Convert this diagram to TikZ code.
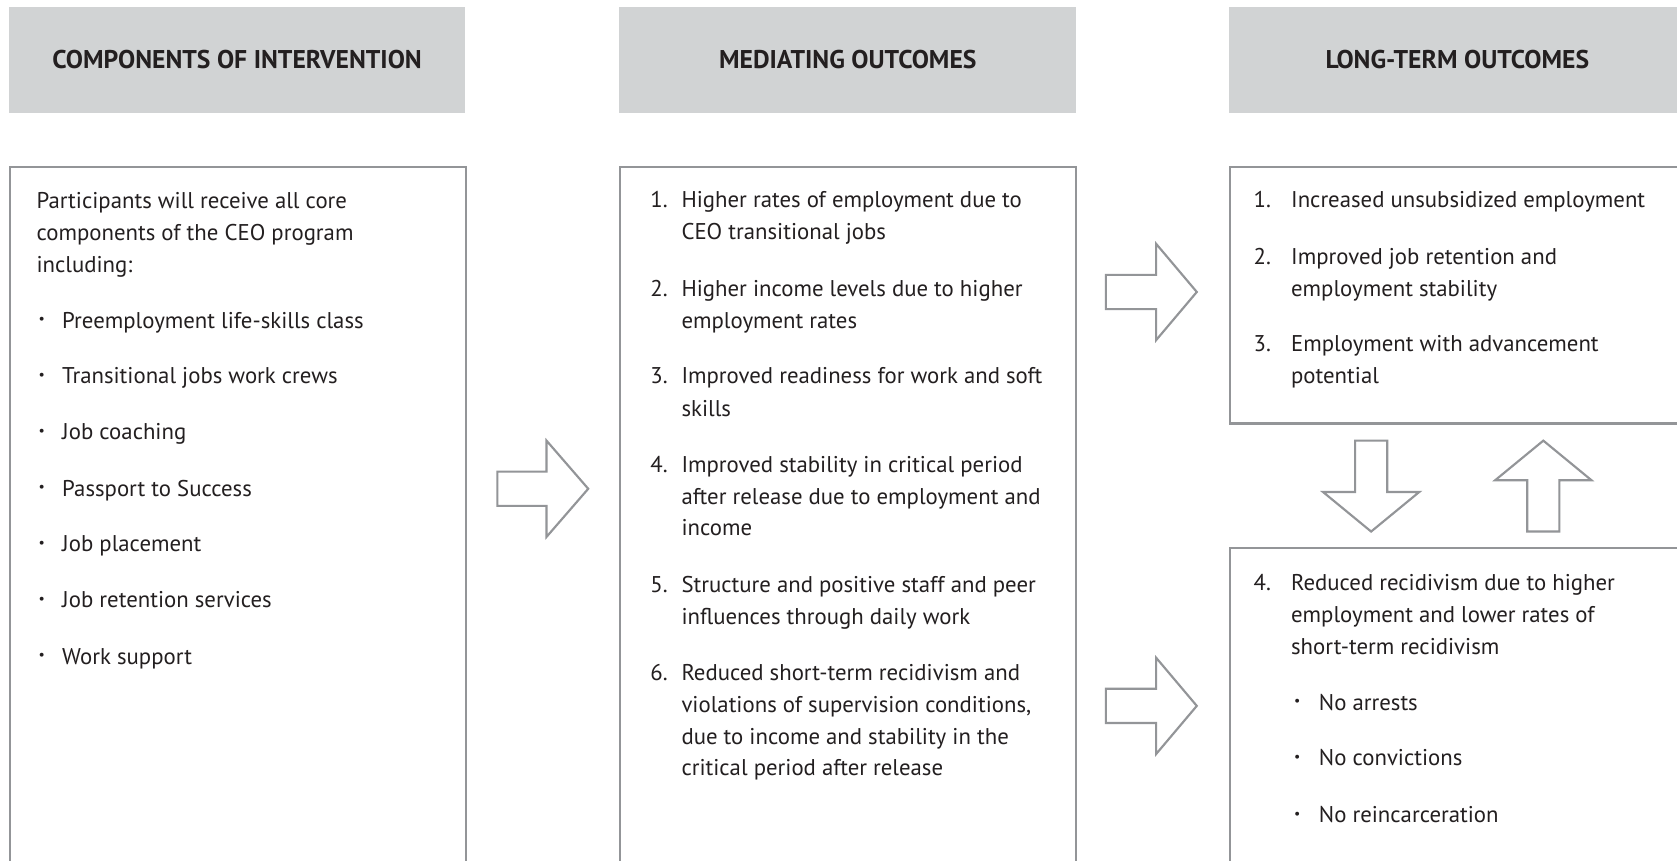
\documentclass[tikz,border=0pt]{standalone}
\usepackage{fontspec}
\setmainfont{PT Sans}
\definecolor{hdr}{HTML}{D1D3D4}
\definecolor{framec}{HTML}{939598}
\definecolor{ink}{HTML}{231F20}
\newcommand\mytl[4]{\node[txt] (#1) at (#2,#3) {#4};}
\newcommand\mybul[3]{\node[bul] (#1) at (#2,#3) {\textbullet};}
\begin{document}
\begin{tikzpicture}[x=1pt,y=-1pt,
  hdrbox/.style={fill=hdr,draw=none,anchor=north west,minimum width=427pt,minimum height=99pt,inner sep=0pt,text=ink,font=\bfseries\fontsize{24}{26}\selectfont},
  bodybox/.style={draw=framec,line width=2pt,anchor=north west,inner sep=0pt},
  blockarrow/.style={draw=framec,line width=2pt,fill=white,line join=miter},
  txt/.style={anchor=base west,inner sep=0pt,text=ink,font=\fontsize{21.3}{24}\selectfont},
  bul/.style={anchor=center,inner sep=0pt,text=ink,font=\fontsize{13}{14}\selectfont}]
\useasboundingbox (0,0) rectangle (1568,805);
\clip (0,0) rectangle (1568,805);
\fill[white] (0,0) rectangle (1568,805);
% headers
\node[hdrbox] (h1) at (8,6) {COMPONENTS OF INTERVENTION};
\node[hdrbox] (h2) at (579,6) {MEDIATING OUTCOMES};
\node[hdrbox] (h3) at (1149,6) {LONG-TERM OUTCOMES};
% body boxes
\node[bodybox,minimum width=427pt,minimum height=700pt] (b1) at (8,155) {};
\node[bodybox,minimum width=426pt,minimum height=700pt] (b2) at (579,155) {};
\node[bodybox,minimum width=427pt,minimum height=240pt] (b3) at (1149,155) {};
\node[bodybox,minimum width=427pt,minimum height=350pt] (b4) at (1149,511) {};
% box 1 text
\mytl{a1}{34}{195}{Participants will receive all core}
\mytl{a2}{34}{225}{components of the CEO program}
\mytl{a3}{34}{255}{including:}
\mybul{ab1}{39}{300}\mytl{at1}{58}{307}{Preemployment life-skills class}
\mybul{ab2}{39}{352}\mytl{at2}{58}{359}{Transitional jobs work crews}
\mybul{ab3}{39}{404}\mytl{at3}{58}{411}{Job coaching}
\mybul{ab4}{39}{457}\mytl{at4}{58}{464}{Passport to Success}
\mybul{ab5}{39}{509}\mytl{at5}{58}{516}{Job placement}
\mybul{ab6}{39}{561}\mytl{at6}{58}{568}{Job retention services}
\mybul{ab7}{39}{614}\mytl{at7}{58}{621}{Work support}
% box 2 text
\mytl{m1n}{608}{194}{1.}\mytl{m1a}{637}{194}{Higher rates of employment due to}
\mytl{m1b}{637}{224}{CEO transitional jobs}
\mytl{m2n}{608}{277}{2.}\mytl{m2a}{637}{277}{Higher income levels due to higher}
\mytl{m2b}{637}{307}{employment rates}
\mytl{m3n}{608}{359}{3.}\mytl{m3a}{637}{359}{Improved readiness for work and soft}
\mytl{m3b}{637}{389}{skills}
\mytl{m4n}{608}{442}{4.}\mytl{m4a}{637}{442}{Improved stability in critical period}
\mytl{m4b}{637}{472}{after release due to employment and}
\mytl{m4c}{637}{501}{income}
\mytl{m5n}{608}{554}{5.}\mytl{m5a}{637}{554}{Structure and positive staff and peer}
\mytl{m5b}{637}{584}{influences through daily work}
\mytl{m6n}{608}{636}{6.}\mytl{m6a}{637}{636}{Reduced short-term recidivism and}
\mytl{m6b}{637}{666}{violations of supervision conditions,}
\mytl{m6c}{637}{696}{due to income and stability in the}
\mytl{m6d}{637}{725}{critical period after release}
% box 3 text
\mytl{r1n}{1172}{194}{1.}\mytl{r1a}{1207}{194}{Increased unsubsidized employment}
\mytl{r2n}{1172}{247}{2.}\mytl{r2a}{1207}{247}{Improved job retention and}
\mytl{r2b}{1207}{277}{employment stability}
\mytl{r3n}{1172}{329}{3.}\mytl{r3a}{1207}{329}{Employment with advancement}
\mytl{r3b}{1207}{359}{potential}
% box 4 text
\mytl{s4n}{1172}{552}{4.}\mytl{s4a}{1207}{552}{Reduced recidivism due to higher}
\mytl{s4b}{1207}{582}{employment and lower rates of}
\mytl{s4c}{1207}{612}{short-term recidivism}
\mybul{sb1}{1213}{657}\mytl{st1}{1233}{664}{No arrests}
\mybul{sb2}{1213}{709}\mytl{st2}{1233}{716}{No convictions}
\mybul{sb3}{1213}{762}\mytl{st3}{1233}{769}{No reincarceration}
% block arrows
\draw[blockarrow] (465,441) -- (511,441) -- (511,412) -- (550,457) -- (511,502) -- (511,473) -- (465,473) -- cycle;
\draw[blockarrow] (1034,257) -- (1081,257) -- (1081,228) -- (1119,273) -- (1081,318) -- (1081,289) -- (1034,289) -- cycle;
\draw[blockarrow] (1034,644) -- (1081,644) -- (1081,615) -- (1119,660) -- (1081,705) -- (1081,676) -- (1034,676) -- cycle;
\draw[blockarrow] (1267,412) -- (1297,412) -- (1297,460) -- (1327,460) -- (1282,497) -- (1237,460) -- (1267,460) -- cycle;
\draw[blockarrow] (1428,497) -- (1458,497) -- (1458,449) -- (1488,449) -- (1443,412) -- (1398,449) -- (1428,449) -- cycle;
\end{tikzpicture}
\end{document}
